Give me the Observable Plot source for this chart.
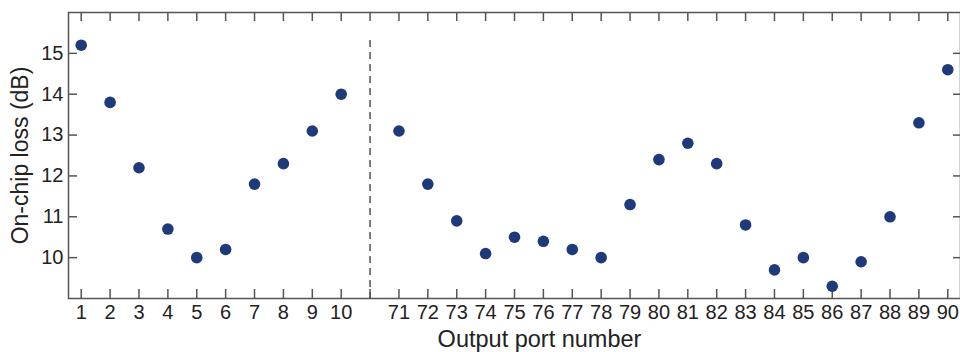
<!DOCTYPE html>
<html>
<head>
<meta charset="utf-8">
<script src="https://cdn.jsdelivr.net/npm/d3@7"></script>
<script src="https://cdn.jsdelivr.net/npm/@observablehq/plot@0.6"></script>
<style>
  html, body { margin: 0; padding: 0; background: #fff; overflow: hidden; }
</style>
</head>
<body>
<div id="chart"></div>
<script>
const portsA = ["1","2","3","4","5","6","7","8","9","10"];
const lossA  = [15.2, 13.8, 12.2, 10.7, 10.0, 10.2, 11.8, 12.3, 13.1, 14.0];
const portsB = ["71","72","73","74","75","76","77","78","79","80","81","82","83","84","85","86","87","88","89","90"];
const lossB  = [13.1, 11.8, 10.9, 10.1, 10.5, 10.4, 10.2, 10.0, 11.3, 12.4, 12.8, 12.3, 10.8, 9.7, 10.0, 9.3, 9.9, 11.0, 13.3, 14.6];
const gapSlot = ["gap"];
const yTicks = [10, 11, 12, 13, 14, 15];
const yDomain = [9, 16];
const xTitle = "Output port number";
const yTitle = "On-chip loss (dB)";

const slots = [...portsA, ...gapSlot, ...portsB];
const data = [
  ...portsA.map((p, i) => ({port: p, loss: lossA[i]})),
  ...portsB.map((p, i) => ({port: p, loss: lossB[i]}))
];

const W = 960, H = 352;
const mL = 68, mR = 0, mT = 12, mB = 54;
const plotW = W - mL - mR, plotH = H - mT - mB;
const ink = "#555";
const txt = "#222";

const chart = Plot.plot({
  width: W,
  height: H,
  marginLeft: mL,
  marginRight: mR,
  marginTop: mT,
  marginBottom: mB,
  style: {fontFamily: "'Liberation Sans', Arial, sans-serif", fontSize: "20px", color: txt, background: "#fff"},
  x: {type: "point", domain: slots, padding: 0.44, round: false},
  y: {domain: yDomain},
  marks: [
    // dashed separator
    Plot.ruleX(gapSlot, {x: d => d, insetTop: 28, stroke: ink, strokeWidth: 1.5, strokeDasharray: "7,5"}),
    // frame
    Plot.frame({stroke: ink, strokeWidth: 1.5}),
    // inward ticks: bottom and top
    Plot.ruleX(slots, {x: d => d, insetTop: plotH - 9, stroke: ink, strokeWidth: 1.5}),
    Plot.ruleX(slots, {x: d => d, insetBottom: plotH - 9, stroke: ink, strokeWidth: 1.5}),
    // inward ticks: left and right
    Plot.ruleY(yTicks, {y: d => d, insetRight: plotW - 9, stroke: ink, strokeWidth: 1.5}),
    Plot.ruleY(yTicks, {y: d => d, insetLeft: plotW - 7, stroke: ink, strokeWidth: 1.5}),
    // tick labels
    Plot.axisX({tickSize: 0, tickPadding: 6, label: null, tickFormat: d => d === "gap" ? "" : d, fill: txt, fontSize: 20}),
    Plot.axisY({ticks: yTicks, tickSize: 0, tickPadding: 5, label: null, tickFormat: d => String(d), fill: txt, fontSize: 20}),
    // titles
    Plot.text([xTitle], {text: d => d, frameAnchor: "bottom", dx: 25, dy: 48, fontSize: 23.5, fill: txt}),
    Plot.text([yTitle], {text: d => d, frameAnchor: "left", textAnchor: "middle", dx: -48, rotate: -90, fontSize: 23, fill: txt}),
    // dots
    Plot.dot(data, {x: "port", y: "loss", r: 5.8, fill: "#1e3a7b", stroke: "none"})
  ]
});
document.getElementById("chart").appendChild(chart);
</script>
</body>
</html>
